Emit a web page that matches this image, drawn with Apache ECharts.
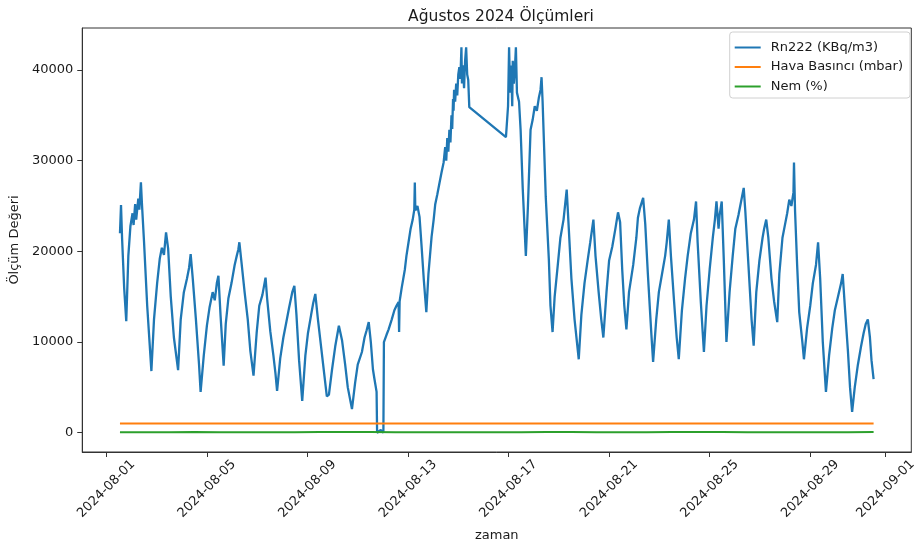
<!DOCTYPE html>
<html>
<head>
<meta charset="utf-8">
<script src="https://cdn.jsdelivr.net/npm/echarts@6/dist/echarts.min.js"></script>
<style>
  html, body { margin: 0; padding: 0; background: #fff; }
  #chart { width: 919px; height: 547px; }
</style>
</head>
<body>
<div id="chart"></div>
<script>
// Time is kept as hours since 2024-08-01 00:00.
const hours = [
  13, 14, 15, 17, 19, 21, 23, 25, 26, 27.5, 28.5, 30.5, 31.5, 33, 34, 36, 39, 43,
  45.5, 48.5, 51, 53, 55, 57, 59, 61.5, 64.5, 68.5, 71, 74, 77, 79, 80.5, 82.5, 85.5, 88.5, 90,
  93, 96, 98.5, 101.5, 103.5, 105.5, 107, 109, 112, 114, 116.5, 119.5, 122.5, 124.5, 126, 127,
  129, 132, 135, 137.5, 140.5, 143.5, 146, 149, 152, 153.5, 156.5, 159.5, 161.5, 163, 166, 169,
  172, 174.5, 177.5, 179.5, 181.5, 184, 187, 190, 192.5, 195.5, 197.5, 199.5, 202, 205, 208,
  210.5, 212.5, 215.5, 218.5, 220, 222, 225, 228, 230.5, 234.5, 237.5, 240, 244, 246.5, 248.5,
  250.5, 252.5, 254.5, 256, 258, 258.5, 260, 262, 264.5, 265, 267.5, 269.5, 272.5, 275, 277,
  279, 279.5, 280, 282, 285, 286.5, 288.5, 290.5, 292.5, 294, 294.5, 295, 297, 299, 301, 303,
  305.5, 307.5, 310.5, 312.5, 314, 316, 318, 320, 322, 323.5, 324.5, 325.5, 326.5, 327.5, 328.5, 329.5, 330.2, 331, 331.5, 332, 333,
  334, 335, 336, 337, 338, 339, 339.5, 340.5, 341.5, 342.5, 343.5, 344.5, 345.5, 346.5,
  381.5, 383.5, 384.5, 385.5, 386.5, 387.5, 388, 389, 390, 391, 392, 394, 395.5, 397.5, 400.5,
  402.5, 405, 407, 409, 411, 413, 414.5, 415.5, 416.5, 417.5, 419.5, 422.5, 424, 426, 428, 431,
  433.5, 436.5, 439.5, 441.5, 444, 447, 451, 453.5, 456.5, 459.5, 462, 465, 467, 470, 472.5,
  474.5, 477.5, 480, 483, 486, 488.5, 490.5, 492.5, 494.5, 496.5, 499, 503, 506, 507.5, 509.5,
  512.5, 514.5, 517, 520, 522, 525, 527.5, 530.5, 533.5, 535, 537, 539, 542, 544.5, 546.5,
  549.5, 552.5, 555, 558, 561, 563, 564.5, 567.5, 570.5, 573, 576, 579, 581, 582.5, 584.5,
  585.5, 587.5, 589.5, 592, 595, 598, 600.5, 603.5, 606.5, 608.5, 610, 613, 616, 618, 620.5,
  623.5, 626.5, 628, 630, 632, 635, 637.5, 640.5, 642.5, 645.5, 648, 650, 652, 654, 656, 656.5,
  657.5, 659.5, 661.5, 664.5, 666, 669, 672, 674.5, 677.5, 679.5, 681.5, 684, 687, 690, 693,
  695.5, 698.5, 701.5, 703, 705, 708, 710, 712, 714.5, 717.5, 720.5, 723, 725, 727, 729,
  730.5, 732.5
];

// Rn222 activity, KBq/m3
const rn222 = [
  22000, 25100, 21500, 16000, 12300, 19500, 22800, 24200, 22900, 25200, 23500, 25800, 24600, 27600, 25200, 21000, 14000, 6800,
  12500, 16500, 19200, 20400, 19600, 22100, 20300, 15000, 10500, 6900, 12500, 15500, 17000, 18200, 19700, 17000, 12500, 7500, 4500,
  8500, 11800, 13800, 15500, 14600, 16500, 17300, 13000, 7400, 12000, 14800, 16500, 18500, 19500, 20200, 21000,
  18800, 15500, 12500, 9000, 6300, 11000, 14000, 15200, 17100, 14800, 11200, 8500, 6500, 4600, 8200, 10500,
  12300, 13800, 15500, 16200, 13000, 8000, 3500, 8500, 11000, 13000, 14300, 15300, 12500, 9500, 6500,
  4000, 4200, 7000, 9500, 10500, 11800, 10200, 7500, 5000, 2600, 5500, 7500, 8900, 10500, 11300,
  12200, 10000, 7000, 5900, 4500, 0, 0, 300, 0, 10000, 10800, 11400, 12500, 13500, 14000,
  14400, 11100, 14500, 16000, 18000, 19500, 21000, 22500, 23500, 24600, 27600, 24500, 25000, 23800, 20500, 17000,
  13300, 17500, 21600, 23500, 25200, 26300, 27500, 28700, 29800, 31500, 30000, 32500, 31000, 33400, 32000, 35000, 33500, 36800, 35500, 37800, 36500,
  38500, 37200, 39500, 40300, 39000, 42500, 38500, 40500, 38000, 41000, 42500, 39500, 38900, 35900,
  32600, 36000, 42500, 37500, 40500, 36000, 41000, 38500, 40000, 42500, 37500, 36500, 33400, 27000, 19500,
  25000, 33400, 34500, 36000, 35500, 37000, 37800, 39200, 36500, 33000, 26000, 19000, 14000, 11100, 15000, 18500,
  21500, 23500, 26800, 22500, 17000, 12500, 8100, 13000, 16500, 19000, 21000, 23500, 19500, 15500, 12500,
  10500, 15500, 19000, 20500, 22500, 24300, 23200, 18000, 14000, 11400, 15500, 18500, 21500, 23700, 24800,
  25900, 23000, 17500, 11500, 7800, 12500, 15500, 17500, 19500, 21000, 23500, 19500, 14500, 10500, 8100,
  13500, 17000, 19500, 22000, 23500, 25500, 21000, 14500, 8900, 14000, 18000, 21500, 23500, 25500, 22500,
  24000, 25500, 19000, 10000, 15500, 19500, 22500, 24000, 25800, 27000, 24500, 18500, 12500, 9600, 15500,
  19000, 21500, 22500, 23500, 21500, 17000, 14500, 12200, 17500, 21500, 23000, 24200, 25700, 25000, 26500, 29800,
  24500, 18500, 13300, 10000, 8100, 11500, 14000, 16500, 18500, 21000, 17000, 10000, 4500, 8500, 11500,
  13500, 15000, 16500, 17500, 14000, 9000, 5000, 2300, 5000, 7500, 9500, 11000, 12000, 12500, 10500,
  8000, 5900
];

// Daily weather readings (hours since 2024-08-01 00:00)
const metHours = [
  13, 36, 60, 84, 108, 132, 156, 180, 204, 228, 252, 276, 300, 324, 348, 372,
  396, 420, 444, 468, 492, 516, 540, 564, 588, 612, 636, 660, 684, 708, 732.5
];
const pressure = [
  1012, 1011, 1010, 1009, 1011, 1013, 1014, 1012, 1010, 1008, 1009, 1011, 1013, 1012, 1010, 1009,
  1008, 1010, 1012, 1014, 1015, 1013, 1011, 1010, 1009, 1011, 1012, 1013, 1011, 1010, 1009
];
const humidity = [
  62, 58, 65, 70, 66, 60, 57, 63, 68, 72, 69, 64, 59, 55, 58, 61,
  66, 71, 67, 63, 60, 64, 69, 73, 70, 66, 62, 59, 61, 65, 68
];

const tickHours = [0, 96, 192, 288, 384, 480, 576, 672, 744];
const tickLabels = ['2024-08-01', '2024-08-05', '2024-08-09', '2024-08-13', '2024-08-17',
  '2024-08-21', '2024-08-25', '2024-08-29', '2024-09-01'];
const yTicks = [0, 10000, 20000, 30000, 40000];

const seriesNames = ['Rn222 (KBq/m3)', 'Hava Basıncı (mbar)', 'Nem (%)'];
const colors = ['#1f77b4', '#ff7f0e', '#2ca02c'];

const zip = (xs, ys) => xs.map((x, i) => [x, ys[i]]);

const FONT = 'DejaVu Sans';
const TEXT = '#1a1a1a';
// plain line handle for legend entries
const LINE_ICON = 'path://M0,0L26,0L26,2L0,2Z';

const chart = echarts.init(document.getElementById('chart'), null, { renderer: 'canvas' });
chart.setOption({
  animation: false,
  backgroundColor: '#ffffff',
  color: colors,
  title: {
    text: 'Ağustos 2024 Ölçümleri',
    left: 496,
    top: 4,
    textAlign: 'center',
    textStyle: { fontFamily: FONT, fontSize: 15.5, fontWeight: 'normal', color: TEXT }
  },
  legend: {
    data: seriesNames.map(n => ({ name: n, icon: LINE_ICON })),
    orient: 'vertical',
    right: 9,
    top: 32,
    padding: [9, 7, 5, 5],
    itemWidth: 26,
    itemHeight: 14,
    itemGap: 6.5,
    backgroundColor: 'rgba(255,255,255,0.8)',
    borderColor: '#d0d0d0',
    borderWidth: 1,
    borderRadius: 3,
    textStyle: { fontFamily: FONT, fontSize: 13, color: TEXT, padding: [0, 0, 0, 5] }
  },
  grid: { left: 80, right: 6, top: 28, bottom: 94, containLabel: false,
          show: true, borderColor: '#333', borderWidth: 1 },
  xAxis: {
    type: 'value',
    min: -23,
    max: 768.5,
    name: 'zaman',
    nameLocation: 'middle',
    nameGap: 77,
    nameTextStyle: { fontFamily: FONT, fontSize: 13, color: TEXT },
    axisLine: { show: true, onZero: false, lineStyle: { color: '#333', width: 1 } },
    axisTick: { show: true, length: 5, customValues: tickHours, lineStyle: { color: '#333' } },
    splitLine: { show: false },
    axisLabel: {
      customValues: tickHours,
      rotate: 45,
      align: 'center',
      verticalAlign: 'middle',
      margin: 37,
      fontFamily: FONT, fontSize: 13, color: TEXT,
      formatter: v => tickLabels[tickHours.indexOf(v)] || ''
    }
  },
  yAxis: {
    type: 'value',
    min: -2125,
    max: 44625,
    name: 'Ölçüm Değeri',
    nameLocation: 'middle',
    nameGap: 57,
    nameTextStyle: { fontFamily: FONT, fontSize: 13, color: TEXT },
    axisLine: { show: true, onZero: false, lineStyle: { color: '#333', width: 1 } },
    axisTick: { show: true, length: 5, customValues: yTicks, lineStyle: { color: '#333' } },
    splitLine: { show: false },
    axisLabel: {
      customValues: yTicks,
      margin: 9,
      fontFamily: FONT, fontSize: 13, color: TEXT,
      formatter: v => String(v)
    }
  },
  series: [
    { name: seriesNames[0], type: 'line', data: zip(hours, rn222), symbol: 'none',
      lineStyle: { width: 2.3, color: colors[0] } },
    { name: seriesNames[1], type: 'line', data: zip(metHours, pressure), symbol: 'none',
      lineStyle: { width: 2, color: colors[1] } },
    { name: seriesNames[2], type: 'line', data: zip(metHours, humidity), symbol: 'none',
      lineStyle: { width: 2, color: colors[2] } }
  ]
});
</script>
</body>
</html>
